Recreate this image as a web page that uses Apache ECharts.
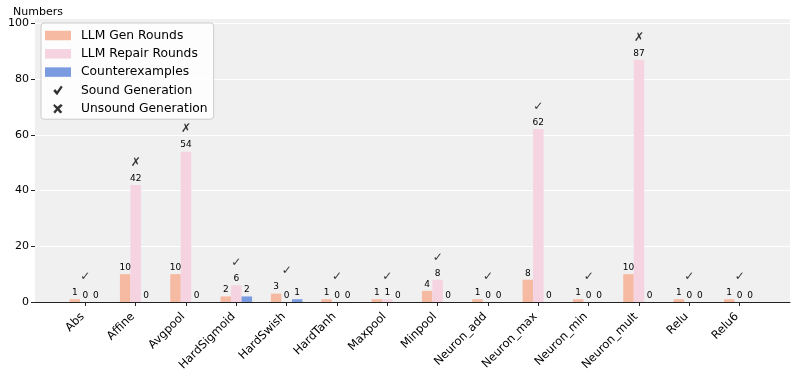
<!DOCTYPE html>
<html>
<head>
<meta charset="utf-8">
<script src="https://cdn.jsdelivr.net/npm/echarts@6/dist/echarts.min.js"></script>
<style>
  html, body { margin: 0; padding: 0; background: #fff; }
  #chart { width: 797px; height: 371px; }
</style>
</head>
<body>
<div id="chart"></div>
<script>
var categories = ['Abs', 'Affine', 'Avgpool', 'HardSigmoid', 'HardSwish', 'HardTanh', 'Maxpool',
    'Minpool', 'Neuron_add', 'Neuron_max', 'Neuron_min', 'Neuron_mult', 'Relu', 'Relu6'];
var genRounds = [1, 10, 10, 2, 3, 1, 1, 4, 1, 8, 1, 10, 1, 1];
var repairRounds = [0, 42, 54, 6, 0, 0, 1, 8, 0, 62, 0, 87, 0, 0];
var counterexamples = [0, 0, 0, 2, 1, 0, 0, 0, 0, 0, 0, 0, 0, 0];
var sound = [true, false, false, true, true, true, true, true, true, true, true, false, true, true];
var yTicks = [0, 20, 40, 60, 80, 100];

var font = 'DejaVu Sans';
// heavy check / heavy ballot x for the legend
var checkPath = 'path://M0,11 L4,7 L8,12 L16,0 L20,3 L8,20 Z';
var crossPath = 'path://M2,0 L9,6 L16,0 L20,3 L13,10 L19,17 L15,20 L9,14 L4,20 L0,17 L6,10 L0,4 Z';

// half a band of empty space on each side, like the original axis limits
var axisCats = [''].concat(categories, ['']);
function pad(arr) { return ['-'].concat(arr, ['-']); }

// mark sits a little above the tallest bar of its group
var markSound = [], markUnsound = [];
categories.forEach(function (c, i) {
    var top = Math.max(genRounds[i], repairRounds[i], counterexamples[i]) + 8;
    markSound.push(sound[i] ? top : '-');
    markUnsound.push(sound[i] ? '-' : top);
});

var barLabel = { show: true, position: 'top', distance: 2, fontSize: 9, color: '#000', fontFamily: font };

var chart = echarts.init(document.getElementById('chart'));

var option = {
    animation: false,
    textStyle: { fontFamily: font },
    grid: {
        left: 35, right: 7, top: 18, bottom: 69,
        containLabel: false, outerBoundsMode: 'none',
        show: true, backgroundColor: '#f0f0f0', borderWidth: 0
    },
    legend: {
        orient: 'vertical',
        left: 41, top: 23,
        padding: [5, 6, 3, 4],
        itemWidth: 26, itemHeight: 9.5, itemGap: 3.3,
        backgroundColor: 'rgba(255,255,255,0.85)',
        borderColor: '#cccccc', borderWidth: 1, borderRadius: 3,
        textStyle: { fontSize: 12.3, color: '#000', fontFamily: font, lineHeight: 15, padding: [0, 0, 0, 5] },
        data: [
            { name: 'LLM Gen Rounds', icon: 'rect' },
            { name: 'LLM Repair Rounds', icon: 'rect' },
            { name: 'Counterexamples', icon: 'rect' },
            { name: 'Sound Generation', icon: checkPath },
            { name: 'Unsound Generation', icon: crossPath }
        ]
    },
    xAxis: {
        type: 'category',
        data: axisCats,
        boundaryGap: false,
        axisLine: { show: true, lineStyle: { color: '#222', width: 1.2 } },
        axisTick: {
            show: true, length: 4, lineStyle: { color: '#222' },
            interval: function (i) { return i > 0 && i <= categories.length; }
        },
        axisLabel: {
            interval: 0, rotate: 45, margin: 10, padding: [0, 4, 0, 0],
            fontSize: 11.5, color: '#000', fontFamily: font
        },
        splitLine: { show: false }
    },
    yAxis: {
        type: 'value',
        min: 0, max: 102, interval: 20,
        name: 'Numbers',
        nameLocation: 'end',
        nameGap: 0,
        nameTextStyle: { fontSize: 11, color: '#000', fontFamily: font, padding: [0, 0, 0, 6] },
        axisLine: { show: false },
        axisTick: { show: true, length: 4, lineStyle: { color: '#222' } },
        axisLabel: {
            margin: 6, fontSize: 11, color: '#000', fontFamily: font, showMaxLabel: false,
            formatter: function (v) { return yTicks.indexOf(v) >= 0 ? String(v) : ''; }
        },
        splitLine: { show: true, lineStyle: { color: '#ffffff', width: 1.2 } }
    },
    series: [
        {
            name: 'LLM Gen Rounds', type: 'bar', barWidth: 10.5, barGap: '0%',
            itemStyle: { color: '#f6b9a1' }, label: barLabel, data: pad(genRounds)
        },
        {
            name: 'LLM Repair Rounds', type: 'bar', barWidth: 10.5, barGap: '0%',
            itemStyle: { color: '#f5d3e1' }, label: barLabel, data: pad(repairRounds)
        },
        {
            name: 'Counterexamples', type: 'bar', barWidth: 10.5, barGap: '0%',
            itemStyle: { color: '#7b9be0' }, label: barLabel, data: pad(counterexamples)
        },
        {
            name: 'Sound Generation', type: 'scatter', symbol: checkPath, symbolSize: 0,
            itemStyle: { color: '#000' },
            label: { show: true, position: 'inside', formatter: '\u2713', fontSize: 12, fontWeight: 'bold', color: '#000', fontFamily: font },
            data: pad(markSound)
        },
        {
            name: 'Unsound Generation', type: 'scatter', symbol: crossPath, symbolSize: 0,
            itemStyle: { color: '#000' },
            label: { show: true, position: 'inside', formatter: '\u2717', fontSize: 12, fontWeight: 'bold', color: '#000', fontFamily: font },
            data: pad(markUnsound)
        }
    ]
};

chart.setOption(option);
</script>
</body>
</html>
